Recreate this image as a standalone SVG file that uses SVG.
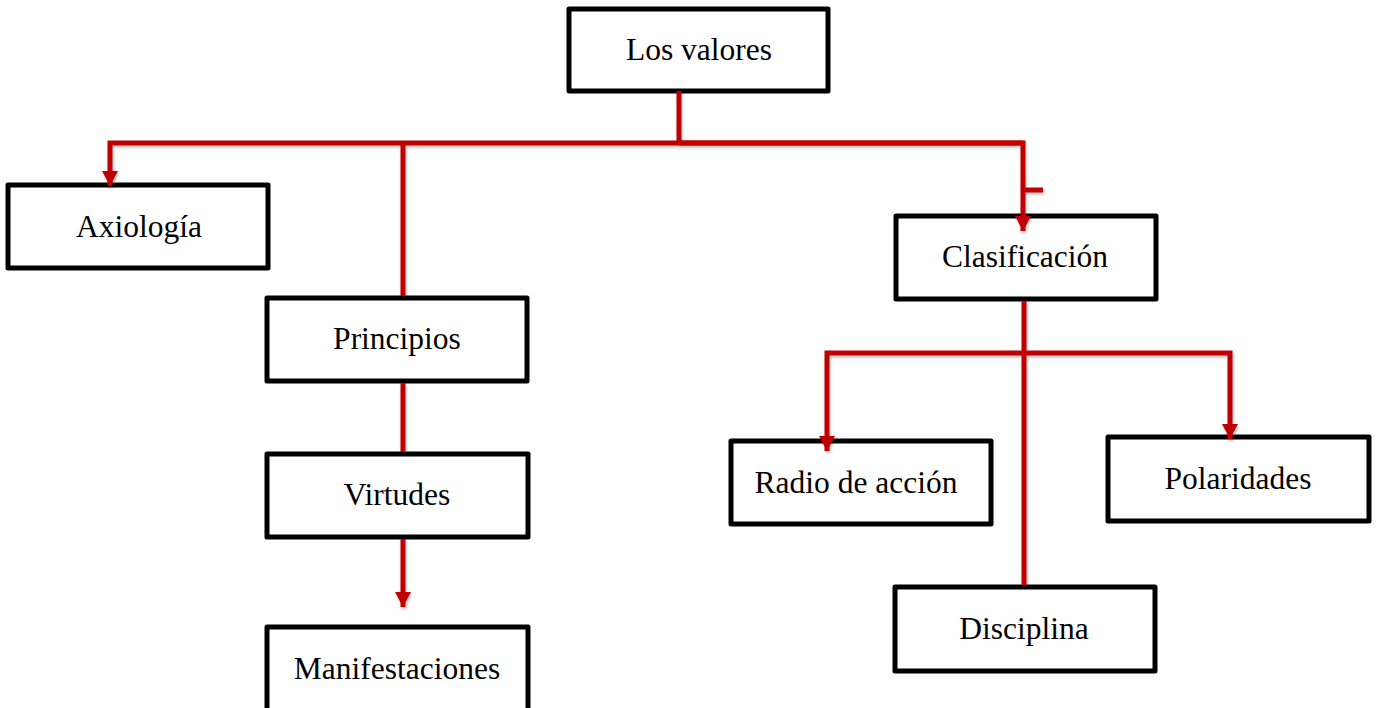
<svg xmlns="http://www.w3.org/2000/svg" width="1376" height="708" viewBox="0 0 1376 708">
<style>
.box{fill:#fff;stroke:#000;stroke-width:5;stroke-linejoin:round}
.lbl{font-family:"Liberation Serif","Times New Roman",serif;font-size:31.5px;fill:#000;text-anchor:middle}
.con{fill:none;stroke:#C00000;stroke-width:5}
</style>
<defs>
<marker id="arr" markerUnits="userSpaceOnUse" markerWidth="18" markerHeight="16" refX="15" refY="8" orient="auto">
<path d="M0,0 L15,8 L0,16 Z" fill="#C00000"/>
</marker>
<filter id="sh" filterUnits="userSpaceOnUse" x="0" y="0" width="1376" height="708">
<feDropShadow dx="1" dy="2" stdDeviation="1.5" flood-color="#000" flood-opacity="0.25"/>
</filter>
</defs>
<g id="los-valores"><rect class="box" x="569" y="9" width="259" height="82"/><text class="lbl" x="699" y="60">Los valores</text></g>
<g id="axiologia"><rect class="box" x="8" y="185" width="260" height="83"/><text class="lbl" x="139" y="237">Axiología</text></g>
<g id="principios"><rect class="box" x="267" y="298" width="260" height="83"/><text class="lbl" x="397" y="349">Principios</text></g>
<g id="virtudes"><rect class="box" x="267" y="454" width="261" height="83"/><text class="lbl" x="397" y="505">Virtudes</text></g>
<g id="manifestaciones"><rect class="box" x="267" y="627" width="261" height="90"/><text class="lbl" x="397" y="679">Manifestaciones</text></g>
<g id="clasificacion"><rect class="box" x="896" y="216" width="260" height="83"/><text class="lbl" x="1025" y="267">Clasificación</text></g>
<g id="radio"><rect class="box" x="731" y="441" width="260" height="83"/><text class="lbl" x="856" y="493">Radio de acción</text></g>
<g id="polaridades"><rect class="box" x="1108" y="437" width="261" height="84"/><text class="lbl" x="1238" y="489">Polaridades</text></g>
<g id="disciplina"><rect class="box" x="895" y="587" width="260" height="84"/><text class="lbl" x="1024" y="639">Disciplina</text></g>
<g id="connectors" filter="url(#sh)">
<path class="con" d="M679,91 V143"/>
<path class="con" d="M1023,143 H110 V186" marker-end="url(#arr)"/>
<path class="con" d="M403,143 V296"/>
<path class="con" d="M679,143 H1023 V231" marker-end="url(#arr)"/>
<path class="con" d="M1023,190 H1043"/>
<path class="con" d="M403,383 V452"/>
<path class="con" d="M403,539 V607" marker-end="url(#arr)"/>
<path class="con" d="M1024,301 V585"/>
<path class="con" d="M1024,353 H827 V451" marker-end="url(#arr)"/>
<path class="con" d="M1024,353 H1230 V439" marker-end="url(#arr)"/>
</g>
</svg>
